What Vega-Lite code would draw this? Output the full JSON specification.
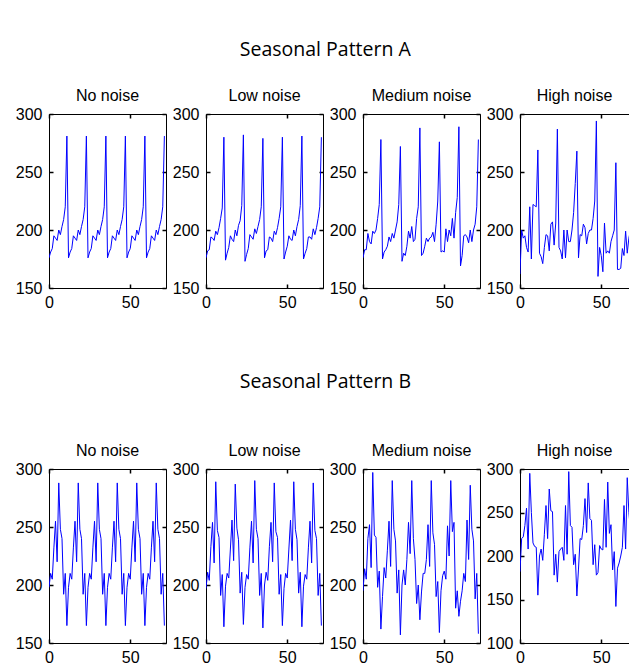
{
  "$schema": "https://vega.github.io/schema/vega-lite/v6.json",
  "padding": {"left": 14, "top": 40, "right": 0, "bottom": 0},
  "background": "white",
  "config": {
    "font": "Liberation Sans",
    "view": {"stroke": "#000", "strokeWidth": 1},
    "axis": {"grid": false, "title": null, "domain": false, "tickColor": "#000", "tickSize": -4, "tickWidth": 1.5, "labelColor": "#000", "labelFont": "Liberation Sans", "labelFontSize": 16, "labelFlush": false, "labelOverlap": false},
    "axisX": {"labelPadding": 10},
    "axisY": {"labelPadding": 11},
    "title": {"font": "Liberation Sans", "fontSize": 16, "fontWeight": "normal", "color": "#000", "offset": 2}
  },
  "datasets": {
    "A0": [{"x":0,"y":176},{"x":1,"y":181},{"x":2,"y":184},{"x":3,"y":195},{"x":4,"y":193},{"x":5,"y":191},{"x":6,"y":200},{"x":7,"y":196},{"x":8,"y":203},{"x":9,"y":209},{"x":10,"y":220},{"x":11,"y":281},
           {"x":12,"y":176},{"x":13,"y":181},{"x":14,"y":184},{"x":15,"y":195},{"x":16,"y":193},{"x":17,"y":191},{"x":18,"y":200},{"x":19,"y":196},{"x":20,"y":203},{"x":21,"y":209},{"x":22,"y":220},{"x":23,"y":281},
           {"x":24,"y":176},{"x":25,"y":181},{"x":26,"y":184},{"x":27,"y":195},{"x":28,"y":193},{"x":29,"y":191},{"x":30,"y":200},{"x":31,"y":196},{"x":32,"y":203},{"x":33,"y":209},{"x":34,"y":220},{"x":35,"y":281},
           {"x":36,"y":176},{"x":37,"y":181},{"x":38,"y":184},{"x":39,"y":195},{"x":40,"y":193},{"x":41,"y":191},{"x":42,"y":200},{"x":43,"y":196},{"x":44,"y":203},{"x":45,"y":209},{"x":46,"y":220},{"x":47,"y":281},
           {"x":48,"y":176},{"x":49,"y":181},{"x":50,"y":184},{"x":51,"y":195},{"x":52,"y":193},{"x":53,"y":191},{"x":54,"y":200},{"x":55,"y":196},{"x":56,"y":203},{"x":57,"y":209},{"x":58,"y":220},{"x":59,"y":281},
           {"x":60,"y":176},{"x":61,"y":181},{"x":62,"y":184},{"x":63,"y":195},{"x":64,"y":193},{"x":65,"y":191},{"x":66,"y":200},{"x":67,"y":196},{"x":68,"y":203},{"x":69,"y":209},{"x":70,"y":220},{"x":71,"y":281}],
    "A1": [{"x":0,"y":176},{"x":1,"y":182},{"x":2,"y":183},{"x":3,"y":194},{"x":4,"y":193},{"x":5,"y":191},{"x":6,"y":199},{"x":7,"y":196},{"x":8,"y":202},{"x":9,"y":210},{"x":10,"y":219},{"x":11,"y":280},
           {"x":12,"y":174},{"x":13,"y":180},{"x":14,"y":185},{"x":15,"y":195},{"x":16,"y":192},{"x":17,"y":190},{"x":18,"y":200},{"x":19,"y":195},{"x":20,"y":204},{"x":21,"y":208},{"x":22,"y":221},{"x":23,"y":282},
           {"x":24,"y":173},{"x":25,"y":179},{"x":26,"y":184},{"x":27,"y":196},{"x":28,"y":194},{"x":29,"y":192},{"x":30,"y":201},{"x":31,"y":197},{"x":32,"y":203},{"x":33,"y":209},{"x":34,"y":220},{"x":35,"y":279},
           {"x":36,"y":176},{"x":37,"y":182},{"x":38,"y":183},{"x":39,"y":194},{"x":40,"y":193},{"x":41,"y":190},{"x":42,"y":199},{"x":43,"y":196},{"x":44,"y":202},{"x":45,"y":210},{"x":46,"y":220},{"x":47,"y":280},
           {"x":48,"y":175},{"x":49,"y":181},{"x":50,"y":186},{"x":51,"y":195},{"x":52,"y":192},{"x":53,"y":191},{"x":54,"y":200},{"x":55,"y":195},{"x":56,"y":203},{"x":57,"y":209},{"x":58,"y":221},{"x":59,"y":281},
           {"x":60,"y":175},{"x":61,"y":180},{"x":62,"y":184},{"x":63,"y":194},{"x":64,"y":194},{"x":65,"y":192},{"x":66,"y":201},{"x":67,"y":196},{"x":68,"y":202},{"x":69,"y":210},{"x":70,"y":220},{"x":71,"y":280}],
    "A2": [{"x":0,"y":176},{"x":1,"y":183},{"x":2,"y":183},{"x":3,"y":197},{"x":4,"y":190},{"x":5,"y":188},{"x":6,"y":199},{"x":7,"y":197},{"x":8,"y":200},{"x":9,"y":210},{"x":10,"y":222},{"x":11,"y":278},
           {"x":12,"y":175},{"x":13,"y":181},{"x":14,"y":183},{"x":15,"y":186},{"x":16,"y":194},{"x":17,"y":190},{"x":18,"y":197},{"x":19,"y":193},{"x":20,"y":200},{"x":21,"y":207},{"x":22,"y":222},{"x":23,"y":272},
           {"x":24,"y":173},{"x":25,"y":180},{"x":26,"y":178},{"x":27,"y":186},{"x":28,"y":199},{"x":29,"y":193},{"x":30,"y":203},{"x":31,"y":190},{"x":32,"y":192},{"x":33,"y":210},{"x":34,"y":220},{"x":35,"y":288},
           {"x":36,"y":178},{"x":37,"y":180},{"x":38,"y":186},{"x":39,"y":193},{"x":40,"y":190},{"x":41,"y":193},{"x":42,"y":194},{"x":43,"y":198},{"x":44,"y":190},{"x":45,"y":205},{"x":46,"y":225},{"x":47,"y":276},
           {"x":48,"y":181},{"x":49,"y":182},{"x":50,"y":181},{"x":51,"y":201},{"x":52,"y":190},{"x":53,"y":200},{"x":54,"y":195},{"x":55,"y":210},{"x":56,"y":193},{"x":57,"y":215},{"x":58,"y":228},{"x":59,"y":289},
           {"x":60,"y":169},{"x":61,"y":178},{"x":62,"y":195},{"x":63,"y":196},{"x":64,"y":194},{"x":65,"y":189},{"x":66,"y":200},{"x":67,"y":190},{"x":68,"y":200},{"x":69,"y":205},{"x":70,"y":220},{"x":71,"y":278}],
    "A3": [{"x":0,"y":162},{"x":1,"y":200},{"x":2,"y":193},{"x":3,"y":195},{"x":4,"y":185},{"x":5,"y":181},{"x":6,"y":220},{"x":7,"y":175},{"x":8,"y":222},{"x":9,"y":221},{"x":10,"y":220},{"x":11,"y":269},
           {"x":12,"y":180},{"x":13,"y":177},{"x":14,"y":171},{"x":15,"y":185},{"x":16,"y":196},{"x":17,"y":195},{"x":18,"y":182},{"x":19,"y":205},{"x":20,"y":207},{"x":21,"y":187},{"x":22,"y":206},{"x":23,"y":287},
           {"x":24,"y":185},{"x":25,"y":182},{"x":26,"y":175},{"x":27,"y":200},{"x":28,"y":176},{"x":29,"y":200},{"x":30,"y":190},{"x":31,"y":190},{"x":32,"y":200},{"x":33,"y":215},{"x":34,"y":240},{"x":35,"y":268},
           {"x":36,"y":176},{"x":37,"y":196},{"x":38,"y":195},{"x":39,"y":205},{"x":40,"y":202},{"x":41,"y":188},{"x":42,"y":197},{"x":43,"y":200},{"x":44,"y":200},{"x":45,"y":210},{"x":46,"y":225},{"x":47,"y":294},
           {"x":48,"y":160},{"x":49,"y":185},{"x":50,"y":178},{"x":51,"y":164},{"x":52,"y":206},{"x":53,"y":180},{"x":54,"y":182},{"x":55,"y":180},{"x":56,"y":190},{"x":57,"y":195},{"x":58,"y":200},{"x":59,"y":258},
           {"x":60,"y":166},{"x":61,"y":166},{"x":62,"y":167},{"x":63,"y":184},{"x":64,"y":178},{"x":65,"y":199},{"x":66,"y":180},{"x":67,"y":193},{"x":68,"y":200},{"x":69,"y":205},{"x":70,"y":190},{"x":71,"y":210}],
    "B0": [{"x":0,"y":198},{"x":1,"y":210},{"x":2,"y":205},{"x":3,"y":232},{"x":4,"y":255},{"x":5,"y":220},{"x":6,"y":288},{"x":7,"y":248},{"x":8,"y":240},{"x":9,"y":192},{"x":10,"y":210},{"x":11,"y":165},
           {"x":12,"y":198},{"x":13,"y":210},{"x":14,"y":205},{"x":15,"y":232},{"x":16,"y":255},{"x":17,"y":220},{"x":18,"y":288},{"x":19,"y":248},{"x":20,"y":240},{"x":21,"y":192},{"x":22,"y":210},{"x":23,"y":165},
           {"x":24,"y":198},{"x":25,"y":210},{"x":26,"y":205},{"x":27,"y":232},{"x":28,"y":255},{"x":29,"y":220},{"x":30,"y":288},{"x":31,"y":248},{"x":32,"y":240},{"x":33,"y":192},{"x":34,"y":210},{"x":35,"y":165},
           {"x":36,"y":198},{"x":37,"y":210},{"x":38,"y":205},{"x":39,"y":232},{"x":40,"y":255},{"x":41,"y":220},{"x":42,"y":288},{"x":43,"y":248},{"x":44,"y":240},{"x":45,"y":192},{"x":46,"y":210},{"x":47,"y":165},
           {"x":48,"y":198},{"x":49,"y":210},{"x":50,"y":205},{"x":51,"y":232},{"x":52,"y":255},{"x":53,"y":220},{"x":54,"y":288},{"x":55,"y":248},{"x":56,"y":240},{"x":57,"y":192},{"x":58,"y":210},{"x":59,"y":165},
           {"x":60,"y":198},{"x":61,"y":210},{"x":62,"y":205},{"x":63,"y":232},{"x":64,"y":255},{"x":65,"y":220},{"x":66,"y":288},{"x":67,"y":248},{"x":68,"y":240},{"x":69,"y":192},{"x":70,"y":210},{"x":71,"y":165}],
    "B1": [{"x":0,"y":197},{"x":1,"y":211},{"x":2,"y":204},{"x":3,"y":233},{"x":4,"y":254},{"x":5,"y":219},{"x":6,"y":289},{"x":7,"y":247},{"x":8,"y":241},{"x":9,"y":191},{"x":10,"y":209},{"x":11,"y":164},
           {"x":12,"y":199},{"x":13,"y":210},{"x":14,"y":206},{"x":15,"y":231},{"x":16,"y":256},{"x":17,"y":221},{"x":18,"y":287},{"x":19,"y":249},{"x":20,"y":239},{"x":21,"y":193},{"x":22,"y":211},{"x":23,"y":166},
           {"x":24,"y":198},{"x":25,"y":209},{"x":26,"y":205},{"x":27,"y":232},{"x":28,"y":255},{"x":29,"y":219},{"x":30,"y":290},{"x":31,"y":248},{"x":32,"y":240},{"x":33,"y":191},{"x":34,"y":210},{"x":35,"y":163},
           {"x":36,"y":200},{"x":37,"y":211},{"x":38,"y":204},{"x":39,"y":233},{"x":40,"y":254},{"x":41,"y":220},{"x":42,"y":288},{"x":43,"y":246},{"x":44,"y":241},{"x":45,"y":192},{"x":46,"y":209},{"x":47,"y":165},
           {"x":48,"y":197},{"x":49,"y":210},{"x":50,"y":206},{"x":51,"y":231},{"x":52,"y":256},{"x":53,"y":221},{"x":54,"y":289},{"x":55,"y":248},{"x":56,"y":239},{"x":57,"y":193},{"x":58,"y":211},{"x":59,"y":164},
           {"x":60,"y":199},{"x":61,"y":209},{"x":62,"y":205},{"x":63,"y":232},{"x":64,"y":255},{"x":65,"y":219},{"x":66,"y":288},{"x":67,"y":247},{"x":68,"y":240},{"x":69,"y":191},{"x":70,"y":210},{"x":71,"y":165}],
    "B2": [{"x":0,"y":195},{"x":1,"y":214},{"x":2,"y":205},{"x":3,"y":240},{"x":4,"y":252},{"x":5,"y":215},{"x":6,"y":297},{"x":7,"y":243},{"x":8,"y":241},{"x":9,"y":198},{"x":10,"y":212},{"x":11,"y":162},
           {"x":12,"y":190},{"x":13,"y":215},{"x":14,"y":206},{"x":15,"y":230},{"x":16,"y":255},{"x":17,"y":216},{"x":18,"y":290},{"x":19,"y":248},{"x":20,"y":238},{"x":21,"y":193},{"x":22,"y":213},{"x":23,"y":157},
           {"x":24,"y":200},{"x":25,"y":213},{"x":26,"y":200},{"x":27,"y":222},{"x":28,"y":254},{"x":29,"y":227},{"x":30,"y":290},{"x":31,"y":240},{"x":32,"y":222},{"x":33,"y":184},{"x":34,"y":200},{"x":35,"y":170},
           {"x":36,"y":194},{"x":37,"y":210},{"x":38,"y":210},{"x":39,"y":222},{"x":40,"y":252},{"x":41,"y":216},{"x":42,"y":290},{"x":43,"y":245},{"x":44,"y":235},{"x":45,"y":190},{"x":46,"y":203},{"x":47,"y":159},
           {"x":48,"y":195},{"x":49,"y":208},{"x":50,"y":212},{"x":51,"y":205},{"x":52,"y":251},{"x":53,"y":225},{"x":54,"y":290},{"x":55,"y":246},{"x":56,"y":254},{"x":57,"y":180},{"x":58,"y":195},{"x":59,"y":173},
           {"x":60,"y":186},{"x":61,"y":195},{"x":62,"y":210},{"x":63,"y":203},{"x":64,"y":256},{"x":65,"y":222},{"x":66,"y":286},{"x":67,"y":248},{"x":68,"y":238},{"x":69,"y":188},{"x":70,"y":210},{"x":71,"y":158}],
    "B3": [{"x":0,"y":182},{"x":1,"y":220},{"x":2,"y":222},{"x":3,"y":235},{"x":4,"y":255},{"x":5,"y":208},{"x":6,"y":295},{"x":7,"y":250},{"x":8,"y":215},{"x":9,"y":211},{"x":10,"y":210},{"x":11,"y":155},
           {"x":12,"y":200},{"x":13,"y":208},{"x":14,"y":195},{"x":15,"y":225},{"x":16,"y":258},{"x":17,"y":220},{"x":18,"y":277},{"x":19,"y":252},{"x":20,"y":251},{"x":21,"y":178},{"x":22,"y":202},{"x":23,"y":170},
           {"x":24,"y":205},{"x":25,"y":208},{"x":26,"y":210},{"x":27,"y":195},{"x":28,"y":258},{"x":29,"y":202},{"x":30,"y":297},{"x":31,"y":235},{"x":32,"y":233},{"x":33,"y":190},{"x":34,"y":202},{"x":35,"y":154},
           {"x":36,"y":185},{"x":37,"y":220},{"x":38,"y":219},{"x":39,"y":235},{"x":40,"y":266},{"x":41,"y":227},{"x":42,"y":284},{"x":43,"y":243},{"x":44,"y":241},{"x":45,"y":190},{"x":46,"y":213},{"x":47,"y":178},
           {"x":48,"y":181},{"x":49,"y":212},{"x":50,"y":208},{"x":51,"y":207},{"x":52,"y":265},{"x":53,"y":210},{"x":54,"y":285},{"x":55,"y":226},{"x":56,"y":236},{"x":57,"y":184},{"x":58,"y":205},{"x":59,"y":142},
           {"x":60,"y":186},{"x":61,"y":192},{"x":62,"y":200},{"x":63,"y":210},{"x":64,"y":258},{"x":65,"y":208},{"x":66,"y":290},{"x":67,"y":250},{"x":68,"y":230},{"x":69,"y":200},{"x":70,"y":215},{"x":71,"y":175}]
  },
  "spacing": 61,
  "vconcat": [
    {
      "title": {"text": "Seasonal Pattern A", "font": "Open Sans", "fontSize": 19.5, "offset": 27, "anchor": "middle"},
      "bounds": "flush",
      "spacing": 40,
      "hconcat": [
        {"title": "No noise", "width": 117, "height": 174, "data": {"name": "A0"},
         "layer": [
           {"mark": {"type": "line", "color": "#0000ff", "strokeWidth": 1, "clip": true},
            "encoding": {"x": {"field": "x", "type": "quantitative", "scale": {"domain": [0, 72], "nice": false, "zero": false}, "axis": {"orient": "bottom", "values": [0, 50]}},
                         "y": {"field": "y", "type": "quantitative", "scale": {"domain": [150, 300], "nice": false, "zero": false}, "axis": {"orient": "left", "values": [150, 200, 250, 300]}}}},
           {"mark": {"type": "line", "opacity": 0},
            "encoding": {"x": {"field": "x", "type": "quantitative", "scale": {"domain": [0, 72], "nice": false, "zero": false}, "axis": {"orient": "top", "values": [0, 50], "labels": false}},
                         "y": {"field": "y", "type": "quantitative", "scale": {"domain": [150, 300], "nice": false, "zero": false}, "axis": {"orient": "right", "values": [150, 200, 250, 300], "labels": false}}}}
         ],
         "resolve": {"axis": {"x": "independent", "y": "independent"}}},
        {"title": "Low noise", "width": 117, "height": 174, "data": {"name": "A1"},
         "layer": [
           {"mark": {"type": "line", "color": "#0000ff", "strokeWidth": 1, "clip": true},
            "encoding": {"x": {"field": "x", "type": "quantitative", "scale": {"domain": [0, 72], "nice": false, "zero": false}, "axis": {"orient": "bottom", "values": [0, 50]}},
                         "y": {"field": "y", "type": "quantitative", "scale": {"domain": [150, 300], "nice": false, "zero": false}, "axis": {"orient": "left", "values": [150, 200, 250, 300]}}}},
           {"mark": {"type": "line", "opacity": 0},
            "encoding": {"x": {"field": "x", "type": "quantitative", "scale": {"domain": [0, 72], "nice": false, "zero": false}, "axis": {"orient": "top", "values": [0, 50], "labels": false}},
                         "y": {"field": "y", "type": "quantitative", "scale": {"domain": [150, 300], "nice": false, "zero": false}, "axis": {"orient": "right", "values": [150, 200, 250, 300], "labels": false}}}}
         ],
         "resolve": {"axis": {"x": "independent", "y": "independent"}}},
        {"title": "Medium noise", "width": 117, "height": 174, "data": {"name": "A2"},
         "layer": [
           {"mark": {"type": "line", "color": "#0000ff", "strokeWidth": 1, "clip": true},
            "encoding": {"x": {"field": "x", "type": "quantitative", "scale": {"domain": [0, 72], "nice": false, "zero": false}, "axis": {"orient": "bottom", "values": [0, 50]}},
                         "y": {"field": "y", "type": "quantitative", "scale": {"domain": [150, 300], "nice": false, "zero": false}, "axis": {"orient": "left", "values": [150, 200, 250, 300]}}}},
           {"mark": {"type": "line", "opacity": 0},
            "encoding": {"x": {"field": "x", "type": "quantitative", "scale": {"domain": [0, 72], "nice": false, "zero": false}, "axis": {"orient": "top", "values": [0, 50], "labels": false}},
                         "y": {"field": "y", "type": "quantitative", "scale": {"domain": [150, 300], "nice": false, "zero": false}, "axis": {"orient": "right", "values": [150, 200, 250, 300], "labels": false}}}}
         ],
         "resolve": {"axis": {"x": "independent", "y": "independent"}}},
        {"title": "High noise", "width": 109, "height": 174, "data": {"name": "A3"},
         "layer": [
           {"mark": {"type": "line", "color": "#0000ff", "strokeWidth": 1, "clip": true},
            "encoding": {"x": {"field": "x", "type": "quantitative", "scale": {"domain": [0, 67.08], "nice": false, "zero": false}, "axis": {"orient": "bottom", "values": [0, 50]}},
                         "y": {"field": "y", "type": "quantitative", "scale": {"domain": [150, 300], "nice": false, "zero": false}, "axis": {"orient": "left", "values": [150, 200, 250, 300]}}}},
           {"mark": {"type": "line", "opacity": 0},
            "encoding": {"x": {"field": "x", "type": "quantitative", "scale": {"domain": [0, 67.08], "nice": false, "zero": false}, "axis": {"orient": "top", "values": [0, 50], "labels": false}},
                         "y": {"field": "y", "type": "quantitative", "scale": {"domain": [150, 300], "nice": false, "zero": false}, "axis": null}}}
         ],
         "resolve": {"axis": {"x": "independent", "y": "independent"}}}
      ]
    },
    {
      "title": {"text": "Seasonal Pattern B", "font": "Open Sans", "fontSize": 19.5, "offset": 50, "anchor": "middle"},
      "bounds": "flush",
      "spacing": 40,
      "hconcat": [
        {"title": "No noise", "width": 117, "height": 174, "data": {"name": "B0"},
         "layer": [
           {"mark": {"type": "line", "color": "#0000ff", "strokeWidth": 1, "clip": true},
            "encoding": {"x": {"field": "x", "type": "quantitative", "scale": {"domain": [0, 72], "nice": false, "zero": false}, "axis": {"orient": "bottom", "values": [0, 50]}},
                         "y": {"field": "y", "type": "quantitative", "scale": {"domain": [150, 300], "nice": false, "zero": false}, "axis": {"orient": "left", "values": [150, 200, 250, 300]}}}},
           {"mark": {"type": "line", "opacity": 0},
            "encoding": {"x": {"field": "x", "type": "quantitative", "scale": {"domain": [0, 72], "nice": false, "zero": false}, "axis": {"orient": "top", "values": [0, 50], "labels": false}},
                         "y": {"field": "y", "type": "quantitative", "scale": {"domain": [150, 300], "nice": false, "zero": false}, "axis": {"orient": "right", "values": [150, 200, 250, 300], "labels": false}}}}
         ],
         "resolve": {"axis": {"x": "independent", "y": "independent"}}},
        {"title": "Low noise", "width": 117, "height": 174, "data": {"name": "B1"},
         "layer": [
           {"mark": {"type": "line", "color": "#0000ff", "strokeWidth": 1, "clip": true},
            "encoding": {"x": {"field": "x", "type": "quantitative", "scale": {"domain": [0, 72], "nice": false, "zero": false}, "axis": {"orient": "bottom", "values": [0, 50]}},
                         "y": {"field": "y", "type": "quantitative", "scale": {"domain": [150, 300], "nice": false, "zero": false}, "axis": {"orient": "left", "values": [150, 200, 250, 300]}}}},
           {"mark": {"type": "line", "opacity": 0},
            "encoding": {"x": {"field": "x", "type": "quantitative", "scale": {"domain": [0, 72], "nice": false, "zero": false}, "axis": {"orient": "top", "values": [0, 50], "labels": false}},
                         "y": {"field": "y", "type": "quantitative", "scale": {"domain": [150, 300], "nice": false, "zero": false}, "axis": {"orient": "right", "values": [150, 200, 250, 300], "labels": false}}}}
         ],
         "resolve": {"axis": {"x": "independent", "y": "independent"}}},
        {"title": "Medium noise", "width": 117, "height": 174, "data": {"name": "B2"},
         "layer": [
           {"mark": {"type": "line", "color": "#0000ff", "strokeWidth": 1, "clip": true},
            "encoding": {"x": {"field": "x", "type": "quantitative", "scale": {"domain": [0, 72], "nice": false, "zero": false}, "axis": {"orient": "bottom", "values": [0, 50]}},
                         "y": {"field": "y", "type": "quantitative", "scale": {"domain": [150, 300], "nice": false, "zero": false}, "axis": {"orient": "left", "values": [150, 200, 250, 300]}}}},
           {"mark": {"type": "line", "opacity": 0},
            "encoding": {"x": {"field": "x", "type": "quantitative", "scale": {"domain": [0, 72], "nice": false, "zero": false}, "axis": {"orient": "top", "values": [0, 50], "labels": false}},
                         "y": {"field": "y", "type": "quantitative", "scale": {"domain": [150, 300], "nice": false, "zero": false}, "axis": {"orient": "right", "values": [150, 200, 250, 300], "labels": false}}}}
         ],
         "resolve": {"axis": {"x": "independent", "y": "independent"}}},
        {"title": "High noise", "width": 109, "height": 174, "data": {"name": "B3"},
         "layer": [
           {"mark": {"type": "line", "color": "#0000ff", "strokeWidth": 1, "clip": true},
            "encoding": {"x": {"field": "x", "type": "quantitative", "scale": {"domain": [0, 67.08], "nice": false, "zero": false}, "axis": {"orient": "bottom", "values": [0, 50]}},
                         "y": {"field": "y", "type": "quantitative", "scale": {"domain": [100, 300], "nice": false, "zero": false}, "axis": {"orient": "left", "values": [100, 150, 200, 250, 300]}}}},
           {"mark": {"type": "line", "opacity": 0},
            "encoding": {"x": {"field": "x", "type": "quantitative", "scale": {"domain": [0, 67.08], "nice": false, "zero": false}, "axis": {"orient": "top", "values": [0, 50], "labels": false}},
                         "y": {"field": "y", "type": "quantitative", "scale": {"domain": [100, 300], "nice": false, "zero": false}, "axis": null}}}
         ],
         "resolve": {"axis": {"x": "independent", "y": "independent"}}}
      ]
    }
  ]
}
